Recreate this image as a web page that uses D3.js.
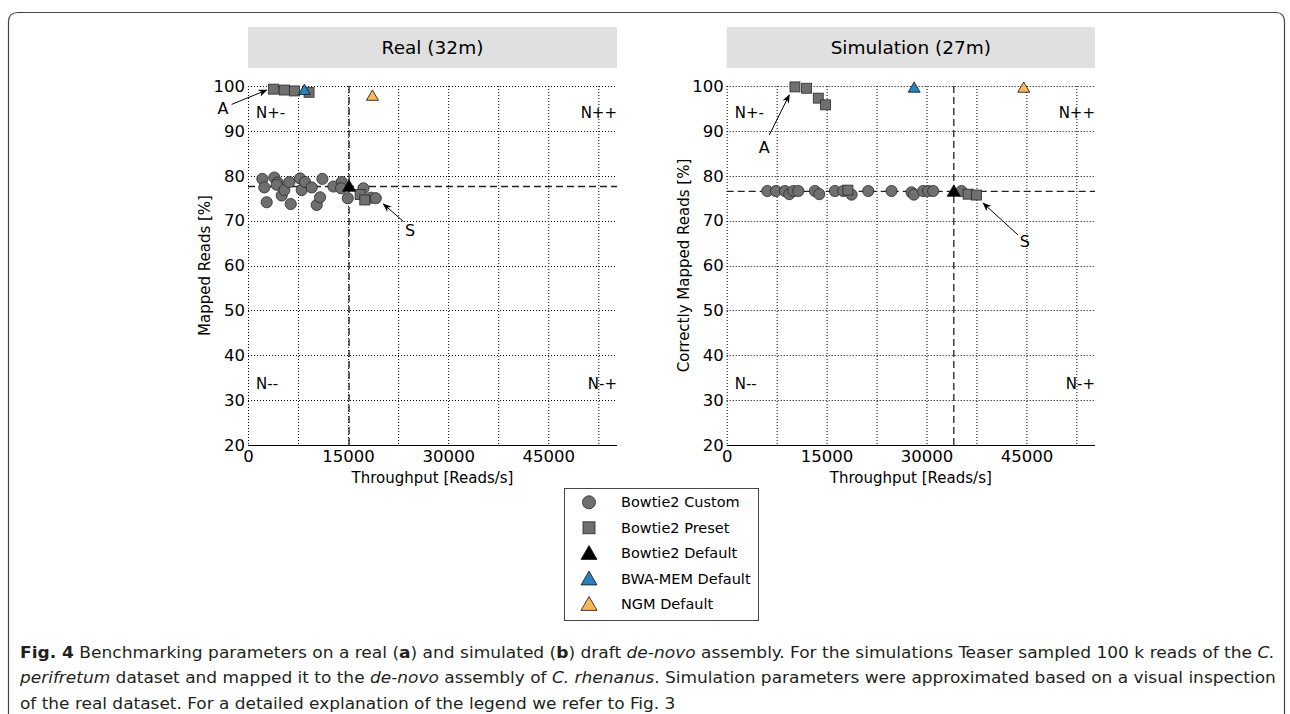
<!DOCTYPE html>
<html><head><meta charset="utf-8">
<script src="https://cdn.jsdelivr.net/npm/d3@7"></script>
<style>body{margin:0;background:#fff}svg{display:block}</style>
</head><body>
<svg id="c" width="1290" height="714"></svg>
<script>
// ---------- data ----------
const xTickValues = [0, 15000, 30000, 45000];
const yTickValues = [20, 30, 40, 50, 60, 70, 80, 90, 100];
const panelTitles = ["Real (32m)", "Simulation (27m)"];
const yLabels = ["Mapped Reads [%]", "Correctly Mapped Reads [%]"];
const xLabel = "Throughput [Reads/s]";

const realCustom = [[2150,79.3],[2450,77.4],[2800,74.1],[3950,79.6],[4450,78.5],[4300,78.0],[5050,75.6],[5450,76.8],[6200,78.6],[6400,73.7],[7800,79.4],[8050,76.8],[8550,78.6],[9550,77.4],[10300,73.5],[10800,75.2],[11150,79.3],[12800,77.6],[14050,78.6],[13950,77.2],[14950,75.0],[17300,77.2],[18450,75.1],[19150,75.0]];
const realPreset = [[3800,99.3],[5450,99.1],[6950,98.9],[9150,98.6],[16800,75.8],[17500,74.6]];
const realDefault = [[15150,77.6]];
const realBwa = [[8450,99.1]];
const realNgm = [[18650,97.8]];

const simCustom = [[6100,76.6],[7400,76.6],[8750,76.6],[9400,75.9],[10000,76.6],[10750,76.6],[13250,76.6],[13900,75.9],[16250,76.6],[17500,76.6],[18750,75.8],[21250,76.6],[24750,76.6],[27750,76.3],[28100,75.8],[29500,76.6],[30250,76.6],[31000,76.6],[35250,76.6]];
const simPreset = [[18200,76.8],[10250,99.8],[12000,99.5],[13750,97.3],[14850,95.8],[36250,75.9],[37500,75.7]];
const simDefault = [[34100,76.5]];
const simBwa = [[28150,99.6]];
const simNgm = [[44600,99.6]];

// annotations: [text, textX, textY, tailX, tailY, headX, headY] in data units
const realNotes = [["A",-3750,95.1,-2450,95.9,2800,99.1],["S",24300,67.9,23300,69.8,20300,73.7]];
const simNotes = [["A",5640,86.3,6400,89.1,9400,98.0],["S",44750,65.3,43750,66.8,38500,73.9]];
const quadLabels = [["N+-",1200,94.0,"start"],["N++",55300,94.0,"end"],["N--",1200,33.6,"start"],["N-+",55300,33.6,"end"]];

const legendNames = ["Bowtie2 Custom","Bowtie2 Preset","Bowtie2 Default","BWA-MEM Default","NGM Default"];
const legendShapes = ["circle","square","triangle","triangle","triangle"];
const legendColors = ["#6f6f6f","#6f6f6f","#000000","#2b7fbf","#fdb65a"];

const captionLines = [
  [["Fig. 4","b"],[" Benchmarking parameters on a real (",""],["a","b"],[") and simulated (",""],["b","b"],[") draft ",""],["de-novo","i"],[" assembly. For the simulations Teaser sampled 100 k reads of the ",""],["C.","i"]],
  [["perifretum","i"],[" dataset and mapped it to the ",""],["de-novo","i"],[" assembly of ",""],["C. rhenanus","i"],[". Simulation parameters were approximated based on a visual inspection",""]],
  [["of the real dataset. For a detailed explanation of the legend we refer to Fig. 3",""]]
];

// ---------- drawing ----------
const svg = d3.select("#c");
const FONT = "DejaVu Sans, sans-serif";

// outer rounded frame
svg.append("path")
  .attr("d","M8.5,714 L8.5,22 Q8.5,12.5 18,12.5 L1276,12.5 Q1284.5,12.5 1284.5,22 L1284.5,714")
  .attr("fill","none").attr("stroke","#444").attr("stroke-width",1.2);

const yScale = d3.scaleLinear().domain([20,100]).range([445,86]);
const panels = [
  {x0:248, x1:617, custom:realCustom, preset:realPreset, def:realDefault, bwa:realBwa, ngm:realNgm, notes:realNotes},
  {x0:726.7, x1:1095, custom:simCustom, preset:simPreset, def:simDefault, bwa:simBwa, ngm:simNgm, notes:simNotes}
];

function triPath(size){ return d3.symbol().type(d3.symbolTriangle).size(size)(); }

svg.append("defs").append("marker").attr("id","ah").attr("viewBox","0 0 10 10")
  .attr("refX",9).attr("refY",5).attr("markerWidth",9).attr("markerHeight",9)
  .attr("orient","auto").attr("markerUnits","userSpaceOnUse")
  .append("path").attr("d","M0,1 L10,5 L0,9 L3,5 Z").attr("fill","#000");

panels.forEach((p,i)=>{
  const x = d3.scaleLinear().domain([0,55300]).range([p.x0,p.x1]);
  const y = yScale;
  const g = svg.append("g");
  // title strip
  g.append("rect").attr("x",p.x0).attr("y",27).attr("width",p.x1-p.x0).attr("height",41).attr("fill","#e0e0e0");
  g.append("text").attr("x",(p.x0+p.x1)/2).attr("y",54).attr("text-anchor","middle")
    .attr("font-family",FONT).attr("font-size",18.5).text(panelTitles[i]);
  // grid
  const xg = d3.range(0,55300,7500);
  g.selectAll(".vg").data(xg).join("line")
    .attr("x1",d=>x(d)+0.5).attr("x2",d=>x(d)+0.5).attr("y1",y(100)).attr("y2",y(20))
    .attr("stroke","#000").attr("stroke-width",1).attr("stroke-dasharray","1,2");
  g.selectAll(".hg").data(yTickValues.filter(v=>v>20)).join("line")
    .attr("x1",x(0)).attr("x2",p.x1).attr("y1",d=>Math.round(y(d))+0.5).attr("y2",d=>Math.round(y(d))+0.5)
    .attr("stroke","#000").attr("stroke-width",1).attr("stroke-dasharray","1,2");
  // bottom spine
  g.append("line").attr("x1",x(0)).attr("x2",p.x1).attr("y1",Math.round(y(20))+0.5).attr("y2",Math.round(y(20))+0.5)
    .attr("stroke","#000").attr("stroke-width",1.2);
  // axes labels
  const xa = g.append("g").attr("transform",`translate(0,${y(20)})`)
    .call(d3.axisBottom(x).tickValues(xTickValues).tickFormat(d3.format("d")).tickSize(0).tickPadding(5));
  xa.select(".domain").remove();
  xa.selectAll("text").attr("font-family",FONT).attr("font-size",16.5).attr("fill","#000");
  const ya = g.append("g").attr("transform",`translate(${x(0)},0)`)
    .call(d3.axisLeft(y).tickValues(yTickValues).tickSize(0).tickPadding(3));
  ya.select(".domain").remove();
  ya.selectAll("text").attr("font-family",FONT).attr("font-size",16.5).attr("fill","#000");
  g.append("text").attr("x",(p.x0+p.x1)/2).attr("y",483).attr("text-anchor","middle")
    .attr("font-family",FONT).attr("font-size",15).text(xLabel);
  g.append("text").attr("transform",`translate(${p.x0-38},${(y(20)+y(100))/2}) rotate(-90)`)
    .attr("text-anchor","middle").attr("font-family",FONT).attr("font-size",15).text(yLabels[i]);
  // reference dashed lines through default
  const d0 = p.def[0];
  g.append("line").attr("x1",x(0)).attr("x2",p.x1).attr("y1",y(d0[1])).attr("y2",y(d0[1]))
    .attr("stroke","#222").attr("stroke-width",1.3).attr("stroke-dasharray","7,4");
  g.append("line").attr("x1",x(d0[0])).attr("x2",x(d0[0])).attr("y1",y(100)).attr("y2",y(20))
    .attr("stroke","#222").attr("stroke-width",1.3).attr("stroke-dasharray","7,4");
  // quadrant labels
  g.selectAll(".q").data(quadLabels).join("text")
    .attr("x",d=>x(d[1])).attr("y",d=>y(d[2])).attr("dy","0.35em").attr("text-anchor",d=>d[3])
    .attr("font-family",FONT).attr("font-size",15).text(d=>d[0]);
  // markers
  g.selectAll(".c").data(p.custom).join("circle")
    .attr("cx",d=>x(d[0])).attr("cy",d=>y(d[1])).attr("r",5.6)
    .attr("fill",legendColors[0]).attr("stroke","#2a2a2a").attr("stroke-width",0.8);
  g.selectAll(".s").data(p.preset).join("rect")
    .attr("x",d=>x(d[0])-5).attr("y",d=>y(d[1])-5).attr("width",10).attr("height",10)
    .attr("fill",legendColors[1]).attr("stroke","#2a2a2a").attr("stroke-width",0.8);
  [[p.def,2],[p.bwa,3],[p.ngm,4]].forEach(([arr,k])=>{
    g.selectAll(".t"+k).data(arr).join("path")
      .attr("d",triPath(k===2?75:62)).attr("transform",d=>`translate(${x(d[0])},${y(d[1])+1})`)
      .attr("fill",legendColors[k]).attr("stroke","#111").attr("stroke-width",0.8);
  });
  // annotations
  p.notes.forEach(n=>{
    g.append("line").attr("x1",x(n[3])).attr("y1",y(n[4])).attr("x2",x(n[5])).attr("y2",y(n[6]))
      .attr("stroke","#000").attr("stroke-width",1).attr("marker-end","url(#ah)");
    g.append("text").attr("x",x(n[1])).attr("y",y(n[2])).attr("dy","0.35em").attr("text-anchor","middle")
      .attr("font-family",FONT).attr("font-size",16).text(n[0]);
  });
});

// legend
const lg = svg.append("g");
lg.append("rect").attr("x",564.5).attr("y",488.5).attr("width",194).attr("height",132)
  .attr("fill","#fff").attr("stroke","#444").attr("stroke-width",1);
legendNames.forEach((nm,k)=>{
  const cy = 502.3 + k*25.5, cx = 589;
  if(legendShapes[k]==="circle"){
    lg.append("circle").attr("cx",cx).attr("cy",cy).attr("r",6.5).attr("fill",legendColors[k]).attr("stroke","#2a2a2a").attr("stroke-width",0.8);
  } else if(legendShapes[k]==="square"){
    lg.append("rect").attr("x",cx-6).attr("y",cy-6).attr("width",12).attr("height",12).attr("fill",legendColors[k]).attr("stroke","#2a2a2a").attr("stroke-width",0.8);
  } else {
    lg.append("path").attr("d",triPath(110)).attr("transform",`translate(${cx},${cy+1.5})`).attr("fill",legendColors[k]).attr("stroke","#111").attr("stroke-width",0.8);
  }
  lg.append("text").attr("x",621).attr("y",cy).attr("dy","0.35em").attr("font-family",FONT).attr("font-size",14.5).text(nm);
});

// caption
const capTargets = [1256, 1256, 656];
const capBase = [658, 683.5, 709];
captionLines.forEach((line,li)=>{
  const t = svg.append("text").attr("x",20).attr("y",capBase[li])
    .attr("font-family","'DejaVu Sans Condensed','DejaVu Sans',sans-serif")
    .attr("font-stretch","condensed")
    .attr("font-size",16.5).attr("fill","#231f20");
  line.forEach(([s,st])=>{
    const ts = t.append("tspan").text(s);
    if(st==="b") ts.attr("font-weight","bold");
    if(st==="i") ts.attr("font-style","italic");
  });
  const w = t.node().getComputedTextLength();
  const sx = capTargets[li]/w;
  t.attr("transform",`translate(20,${capBase[li]}) scale(${sx},1) translate(-20,${-capBase[li]})`);
});
</script>
</body></html>
